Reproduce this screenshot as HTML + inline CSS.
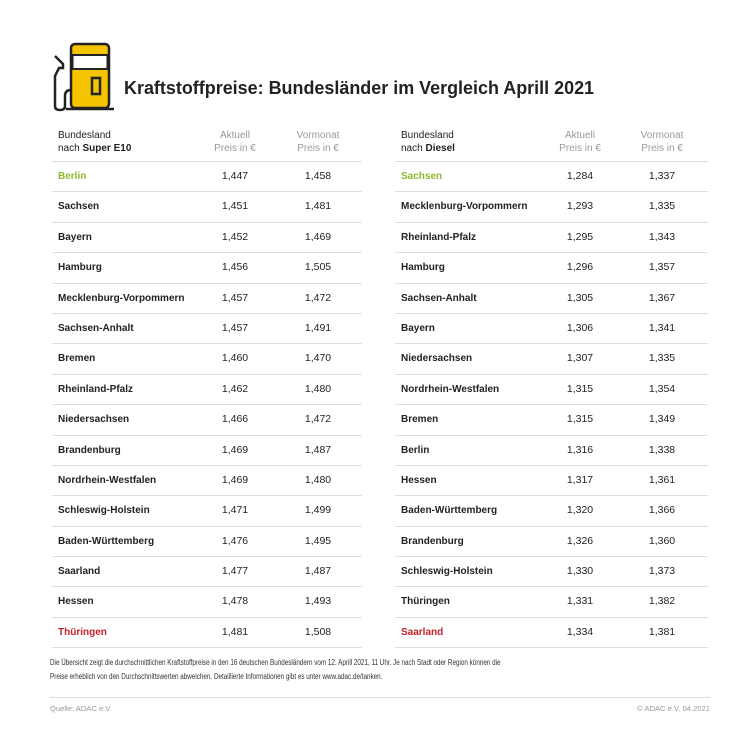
<!DOCTYPE html>
<html><head><meta charset="utf-8"><style>
body{margin:0;width:750px;height:745px;background:#fff;font-family:"Liberation Sans",sans-serif;color:#222;position:relative;overflow:hidden}
.t{position:absolute;top:127px}
.h{height:34px;position:relative;font-size:10px;line-height:13px;border-bottom:1px solid #ddd}
.h div{position:absolute;top:2px}
.g{color:#999;text-align:center;width:80px}
.r{height:29.4px;border-bottom:1px solid #ddd;position:relative;font-size:10.5px;line-height:29.4px}
.r span{position:absolute;top:0}
.n{left:6px;font-weight:bold;font-size:10px}
.a,.v{width:80px;text-align:center}
.gr{color:#8fb82e}.rd{color:#c8202a}
</style></head><body>
<svg style="position:absolute;left:48px;top:40px" width="72" height="74" viewBox="0 0 72 74">
<rect x="23" y="4" width="38" height="64" rx="4" fill="#f5c400" stroke="#222" stroke-width="2.5"/>
<rect x="24.5" y="15" width="35" height="14" fill="#fff" stroke="#222" stroke-width="2"/>
<rect x="44" y="38" width="8" height="16" fill="none" stroke="#222" stroke-width="2.5"/>
<line x1="18" y1="69" x2="66" y2="69" stroke="#222" stroke-width="2.5"/>
<path d="M23 50 q-6 0 -6 6 v10 q0 4 -5 4 q-5 0 -5 -4 v-30 l4 -8 l4 0 v-4 l-8 -8" fill="none" stroke="#222" stroke-width="2.5"/>
</svg>
<div style="position:absolute;left:124px;top:77px;font-size:18.5px;font-weight:bold;color:#222;transform:scaleX(0.97);transform-origin:left;white-space:nowrap">Kraftstoffpreise: Bundesländer im Vergleich Aprill 2021</div>

<div class="t" style="left:52px;width:310px">
<div class="h"><div style="left:6px">Bundesland<br>nach <b>Super E10</b></div><div class="g" style="left:143px">Aktuell<br>Preis in €</div><div class="g" style="left:226px">Vormonat<br>Preis in €</div></div>
<div class="r"><span class="n gr">Berlin</span><span class="a" style="left:143px">1,447</span><span class="v" style="left:226px">1,458</span></div>
<div class="r"><span class="n">Sachsen</span><span class="a" style="left:143px">1,451</span><span class="v" style="left:226px">1,481</span></div>
<div class="r"><span class="n">Bayern</span><span class="a" style="left:143px">1,452</span><span class="v" style="left:226px">1,469</span></div>
<div class="r"><span class="n">Hamburg</span><span class="a" style="left:143px">1,456</span><span class="v" style="left:226px">1,505</span></div>
<div class="r"><span class="n">Mecklenburg-Vorpommern</span><span class="a" style="left:143px">1,457</span><span class="v" style="left:226px">1,472</span></div>
<div class="r"><span class="n">Sachsen-Anhalt</span><span class="a" style="left:143px">1,457</span><span class="v" style="left:226px">1,491</span></div>
<div class="r"><span class="n">Bremen</span><span class="a" style="left:143px">1,460</span><span class="v" style="left:226px">1,470</span></div>
<div class="r"><span class="n">Rheinland-Pfalz</span><span class="a" style="left:143px">1,462</span><span class="v" style="left:226px">1,480</span></div>
<div class="r"><span class="n">Niedersachsen</span><span class="a" style="left:143px">1,466</span><span class="v" style="left:226px">1,472</span></div>
<div class="r"><span class="n">Brandenburg</span><span class="a" style="left:143px">1,469</span><span class="v" style="left:226px">1,487</span></div>
<div class="r"><span class="n">Nordrhein-Westfalen</span><span class="a" style="left:143px">1,469</span><span class="v" style="left:226px">1,480</span></div>
<div class="r"><span class="n">Schleswig-Holstein</span><span class="a" style="left:143px">1,471</span><span class="v" style="left:226px">1,499</span></div>
<div class="r"><span class="n">Baden-Württemberg</span><span class="a" style="left:143px">1,476</span><span class="v" style="left:226px">1,495</span></div>
<div class="r"><span class="n">Saarland</span><span class="a" style="left:143px">1,477</span><span class="v" style="left:226px">1,487</span></div>
<div class="r"><span class="n">Hessen</span><span class="a" style="left:143px">1,478</span><span class="v" style="left:226px">1,493</span></div>
<div class="r"><span class="n rd">Thüringen</span><span class="a" style="left:143px">1,481</span><span class="v" style="left:226px">1,508</span></div>
</div>

<div class="t" style="left:395px;width:313px">
<div class="h"><div style="left:6px">Bundesland<br>nach <b>Diesel</b></div><div class="g" style="left:145px">Aktuell<br>Preis in €</div><div class="g" style="left:227px">Vormonat<br>Preis in €</div></div>
<div class="r"><span class="n gr">Sachsen</span><span class="a" style="left:145px">1,284</span><span class="v" style="left:227px">1,337</span></div>
<div class="r"><span class="n">Mecklenburg-Vorpommern</span><span class="a" style="left:145px">1,293</span><span class="v" style="left:227px">1,335</span></div>
<div class="r"><span class="n">Rheinland-Pfalz</span><span class="a" style="left:145px">1,295</span><span class="v" style="left:227px">1,343</span></div>
<div class="r"><span class="n">Hamburg</span><span class="a" style="left:145px">1,296</span><span class="v" style="left:227px">1,357</span></div>
<div class="r"><span class="n">Sachsen-Anhalt</span><span class="a" style="left:145px">1,305</span><span class="v" style="left:227px">1,367</span></div>
<div class="r"><span class="n">Bayern</span><span class="a" style="left:145px">1,306</span><span class="v" style="left:227px">1,341</span></div>
<div class="r"><span class="n">Niedersachsen</span><span class="a" style="left:145px">1,307</span><span class="v" style="left:227px">1,335</span></div>
<div class="r"><span class="n">Nordrhein-Westfalen</span><span class="a" style="left:145px">1,315</span><span class="v" style="left:227px">1,354</span></div>
<div class="r"><span class="n">Bremen</span><span class="a" style="left:145px">1,315</span><span class="v" style="left:227px">1,349</span></div>
<div class="r"><span class="n">Berlin</span><span class="a" style="left:145px">1,316</span><span class="v" style="left:227px">1,338</span></div>
<div class="r"><span class="n">Hessen</span><span class="a" style="left:145px">1,317</span><span class="v" style="left:227px">1,361</span></div>
<div class="r"><span class="n">Baden-Württemberg</span><span class="a" style="left:145px">1,320</span><span class="v" style="left:227px">1,366</span></div>
<div class="r"><span class="n">Brandenburg</span><span class="a" style="left:145px">1,326</span><span class="v" style="left:227px">1,360</span></div>
<div class="r"><span class="n">Schleswig-Holstein</span><span class="a" style="left:145px">1,330</span><span class="v" style="left:227px">1,373</span></div>
<div class="r"><span class="n">Thüringen</span><span class="a" style="left:145px">1,331</span><span class="v" style="left:227px">1,382</span></div>
<div class="r"><span class="n rd">Saarland</span><span class="a" style="left:145px">1,334</span><span class="v" style="left:227px">1,381</span></div>
</div>

<div style="position:absolute;left:50px;top:656px;font-size:7.8px;line-height:14px;color:#333;width:800px;white-space:nowrap;transform:scaleX(0.81);transform-origin:left">Die Übersicht zeigt die durchschnittlichen Kraftstoffpreise in den 16 deutschen Bundesländern vom 12. Aprill 2021, 11 Uhr. Je nach Stadt oder Region können die<br>Preise erheblich von den Durchschnittswerten abweichen. Detaillierte Informationen gibt es unter www.adac.de/tanken.</div>
<div style="position:absolute;left:50px;top:697px;width:660px;border-top:1px solid #ddd"></div>
<div style="position:absolute;left:50px;top:704px;font-size:7.6px;color:#999">Quelle: ADAC e.V.</div>
<div style="position:absolute;right:40px;top:704px;font-size:7.6px;color:#999">© ADAC e.V. 04.2021</div>
</body></html>
